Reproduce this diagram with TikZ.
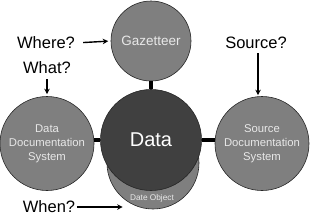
\documentclass[tikz,border=0pt]{standalone}
\usepackage{fontspec}
\setmainfont{Liberation Sans}
\usetikzlibrary{arrows.meta}
\definecolor{midgray}{HTML}{7F7F7F}
\definecolor{darkgray}{HTML}{404040}
\definecolor{lighttext}{HTML}{E8E8E8}
\begin{document}
\begin{tikzpicture}[x=1pt,y=-1pt,
  circ/.style={circle,draw=black!85,line width=0.6pt,inner sep=0pt,text=lighttext,align=center},
  lbl/.style={font=\fontsize{16.5}{19}\selectfont,inner sep=0pt},
  arr/.style={line width=1.4pt,-{Stealth[length=5.5pt,width=5.5pt]}},
  link/.style={line width=3.5pt}]
\useasboundingbox (0,0) rectangle (310,218);
% circles
\node[circ,fill=midgray,minimum size=80pt,font=\fontsize{13.5}{16}\selectfont] (gaz) at (151,41) {Gazetteer};
\node[circ,fill=midgray,minimum size=94pt,font=\fontsize{11.3}{14}\selectfont] (ldoc) at (47,143.5) {Data\\Documentation\\System};
\node[circ,fill=midgray,minimum size=94pt,font=\fontsize{11.3}{14}\selectfont] (rdoc) at (262,143.5) {Source\\Documentation\\System};
\node[circ,fill=midgray,minimum size=92pt] (date) at (153,163) {};
\node[font=\fontsize{8.3}{10}\selectfont,text=lighttext,inner sep=0pt] (datelbl) at (152,198) {Date Object};
\node[circ,fill=darkgray,minimum size=101pt,text=white,font=\fontsize{20}{24}\selectfont] (data) at (151,140) {Data};
% links
\draw[link] (gaz.south) -- (data.north);
\draw[link] (data.west) -- (data.west -| ldoc.east);
\draw[link] (data.east) -- (data.east -| rdoc.west);
% labels
\node[lbl] (where) at (46,43) {Where?};
\node[lbl] (what) at (47,68) {What?};
\node[lbl] (source) at (256,43) {Source?};
\node[lbl] (when) at (49,207) {When?};
% arrows
\draw[arr,shorten <=8pt,shorten >=2.5pt] (where.east) -- (gaz.west);
\draw[arr,shorten <=5pt,shorten >=2pt] (what.south) -- (ldoc.north);
\draw[arr,shorten <=4pt,shorten >=1pt] ([xshift=2pt]source.south) -- ([xshift=-4pt]rdoc.north);
\draw[arr] ([xshift=1.5pt]when.east) -- ([xshift=16pt]when.east -| date.west);
\end{tikzpicture}
\end{document}
